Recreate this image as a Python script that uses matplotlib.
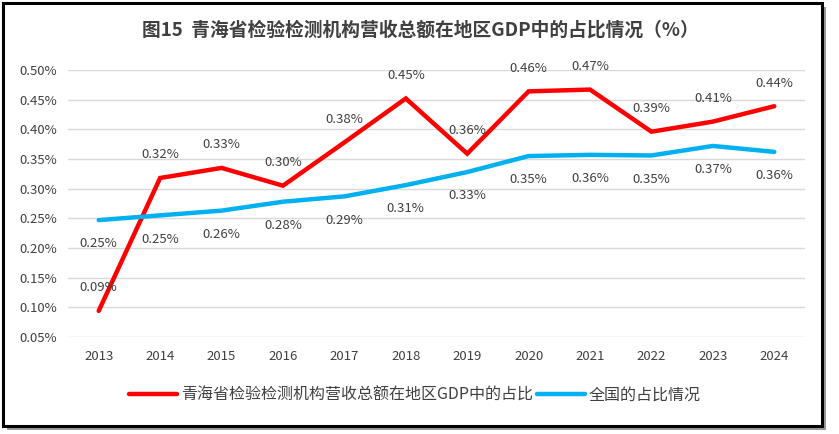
import matplotlib.pyplot as plt
from matplotlib.patches import Rectangle
from matplotlib.ticker import FuncFormatter

plt.rcParams['font.family'] = ['Noto Sans CJK SC', 'DejaVu Sans']

years = ['2013', '2014', '2015', '2016', '2017', '2018', '2019', '2020', '2021', '2022', '2023', '2024']
qinghai = [0.094, 0.318, 0.335, 0.305, 0.378, 0.452, 0.359, 0.464, 0.467, 0.396, 0.413, 0.439]
national = [0.247, 0.255, 0.263, 0.278, 0.287, 0.306, 0.328, 0.355, 0.357, 0.356, 0.372, 0.362]
qinghai_labels = ['0.09%', '0.32%', '0.33%', '0.30%', '0.38%', '0.45%', '0.36%', '0.46%', '0.47%', '0.39%', '0.41%', '0.44%']
national_labels = ['0.25%', '0.25%', '0.26%', '0.28%', '0.29%', '0.31%', '0.33%', '0.35%', '0.36%', '0.35%', '0.37%', '0.36%']

title = '图15  青海省检验检测机构营收总额在地区GDP中的占比情况（%）'
name_qh = '青海省检验检测机构营收总额在地区GDP中的占比'
name_cn = '全国的占比情况'

red = '#ff0000'
blue = '#00b0f0'
txt = '#404040'

fig = plt.figure(figsize=(8.39, 4.34), dpi=100)

# frame with drop shadow, kept below the axes
fig.patches.append(Rectangle((7 / 839, 1 - 430 / 434), 819 / 839, 423 / 434, transform=fig.transFigure,
                             facecolor='#9a9a9a', edgecolor='none', zorder=-2))
fig.patches.append(Rectangle((3 / 839, 1 - 426 / 434), 819 / 839, 423 / 434, transform=fig.transFigure,
                             facecolor='white', edgecolor='black', linewidth=2.2, zorder=-1))

ax = fig.add_axes([68 / 839, 1 - 337 / 434, 737 / 839, 267 / 434])
ax.set_facecolor('none')
x = list(range(len(years)))

ax.plot(x, qinghai, color=red, lw=3.2, solid_capstyle='round', solid_joinstyle='miter', label=name_qh, zorder=3)
ax.plot(x, national, color=blue, lw=3.2, solid_capstyle='round', label=name_cn, zorder=3)

for i in x:
    ax.annotate(qinghai_labels[i], (i, qinghai[i]), xytext=(0, 12), textcoords='offset points',
                ha='center', va='bottom', fontsize=9.5, color=txt, zorder=4)
    ax.annotate(national_labels[i], (i, national[i]), xytext=(0, -12.5), textcoords='offset points',
                ha='center', va='top', fontsize=9.5, color=txt, zorder=4)

ax.set_xlim(-0.5, len(years) - 0.5)
ax.set_ylim(0.05, 0.50)
ax.set_yticks([0.05 * k for k in range(1, 11)])
ax.yaxis.set_major_formatter(FuncFormatter(lambda v, p: '{:.2f}%'.format(v)))
ax.set_xticks(x)
ax.set_xticklabels(years)
ax.grid(axis='y', color='#d9d9d9', lw=1)
ax.set_axisbelow(True)
for s in ax.spines.values():
    s.set_visible(False)
ax.tick_params(length=0, labelsize=9.5, labelcolor=txt)
ax.tick_params(axis='x', pad=9)
ax.tick_params(axis='y', pad=8)

fig.text(420 / 839, 1 - 30 / 434, title, ha='center', va='center', fontsize=13.5, fontweight='bold', color=txt)

fig.legend(loc='center', bbox_to_anchor=(415 / 839, 1 - 395 / 434), ncol=2, frameon=False,
           fontsize=11.5, handlelength=3, handletextpad=0.2, columnspacing=0.3, labelcolor=txt)

fig.savefig('out.png', dpi=100)
